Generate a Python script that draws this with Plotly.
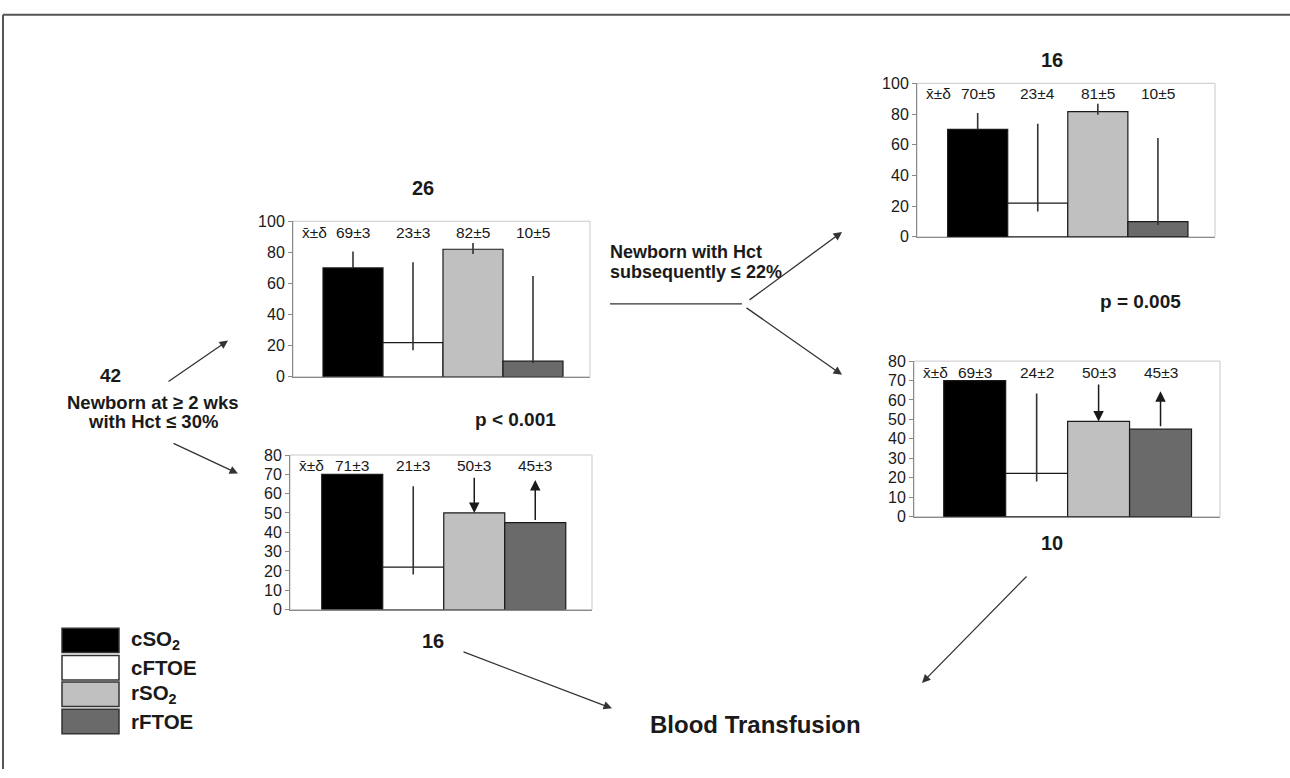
import plotly.graph_objects as go

W, H = 1290, 778

# ---------------- data ----------------
categories = ["cSO2", "cFTOE", "rSO2", "rFTOE"]
bar_colors = ["#000000", "#ffffff", "#c0c0c0", "#6a6a6a"]

# chart 1: 26 newborns (top-left)
c1_values = [70, 22, 82, 10]
c1_err_top = [80.5, 73.6, 86, 64.8]
c1_err_bot = [70, 17, 79, 8.8]
c1_labels = ["69±3", "23±3", "82±5", "10±5"]

# chart 2: 16 newborns (bottom-left)
c2_values = [70, 22, 50, 45]
c2_err_top = [70, 63.8, 50, 45]
c2_err_bot = [70, 18.2, 50, 45]
c2_labels = ["71±3", "21±3", "50±3", "45±3"]
c2_arrow_from = [None, None, 69, 45.6]
c2_arrow_to = [None, None, 50, 67]

# chart 3: 16 newborns (top-right)
c3_values = [70, 22, 81.6, 10]
c3_err_top = [80.7, 73.7, 86.7, 64.4]
c3_err_bot = [70, 16.5, 79.5, 7.8]
c3_labels = ["70±5", "23±4", "81±5", "10±5"]

# chart 4: 10 newborns (bottom-right)
c4_values = [70, 22.3, 49, 45]
c4_err_top = [70, 63.3, 49, 45]
c4_err_bot = [70, 18.1, 49, 45]
c4_labels = ["69±3", "24±2", "50±3", "45±3"]
c4_arrow_from = [None, None, 68.8, 45.7]
c4_arrow_to = [None, None, 49, 64.5]

y_ticks_100 = [0, 20, 40, 60, 80, 100]
y_ticks_80 = [0, 10, 20, 30, 40, 50, 60, 70, 80]

FONT = "Liberation Sans, Arial, Helvetica, sans-serif"
TXT = "#1a1a1a"


def px(x):
    return x / W


def py(y):
    return 1 - y / H


charts = [
    dict(v=c1_values, t=c1_err_top, b=c1_err_bot, lab=c1_labels, af=None, at=None,
         xp=(293, 590), yp=(218, 377), yr=100, xr=(-1.0, 3.95), ticks=y_ticks_100, ly=92.5),
    dict(v=c2_values, t=c2_err_top, b=c2_err_bot, lab=c2_labels, af=c2_arrow_from, at=c2_arrow_to,
         xp=(290, 592), yp=(457, 615), yr=80, xr=(-1.02, 3.93), ticks=y_ticks_80, ly=74.4),
    dict(v=c3_values, t=c3_err_top, b=c3_err_bot, lab=c3_labels, af=None, at=None,
         xp=(917, 1215), yp=(77, 234), yr=100, xr=(-1.01, 3.95), ticks=y_ticks_100, ly=93.5),
    dict(v=c4_values, t=c4_err_top, b=c4_err_bot, lab=c4_labels, af=c4_arrow_from, at=c4_arrow_to,
         xp=(914, 1220), yp=(361, 520), yr=80, xr=(-0.98, 3.96), ticks=y_ticks_80, ly=74),
]

fig = go.Figure()
layout = dict(
    width=W, height=H, margin=dict(l=0, r=0, t=0, b=0),
    paper_bgcolor="white", plot_bgcolor="white", showlegend=False,
    font=dict(family=FONT, color=TXT),
)
annotations = []
shapes = []

for i, c in enumerate(charts, start=1):
    xa = "x" if i == 1 else f"x{i}"
    ya = "y" if i == 1 else f"y{i}"
    xkey = "xaxis" if i == 1 else f"xaxis{i}"
    ykey = "yaxis" if i == 1 else f"yaxis{i}"
    plus = [t - v for t, v in zip(c["t"], c["v"])]
    minus = [v - b for b, v in zip(c["b"], c["v"])]
    fig.add_trace(go.Bar(
        x=list(range(4)), y=c["v"], width=[1] * 4, xaxis=xa, yaxis=ya,
        marker=dict(color=bar_colors, line=dict(color="#1a1a1a", width=1.2)),
        error_y=dict(type="data", symmetric=False, array=plus, arrayminus=minus,
                     color="#333333", thickness=1.6, width=0),
        hoverinfo="skip",
    ))
    layout[xkey] = dict(domain=[px(c["xp"][0]), px(c["xp"][1])], range=list(c["xr"]),
                        showticklabels=False, showgrid=False, zeroline=False,
                        showline=True, linecolor="#8a8a8a", linewidth=1,
                        anchor=ya, fixedrange=True)
    layout[ykey] = dict(domain=[py(c["yp"][1]), py(c["yp"][0])], range=[0, c["yr"]],
                        tickvals=c["ticks"], ticks="outside", ticklen=4, tickcolor="#8a8a8a",
                        showgrid=False, zeroline=False, showline=True, linecolor="#8a8a8a",
                        linewidth=1, tickfont=dict(size=16, color=TXT, family=FONT),
                        anchor=xa, fixedrange=True)
    shapes.append(dict(type="rect", xref=f"{xa} domain", yref=f"{ya} domain",
                       x0=0, x1=1, y0=0, y1=1, line=dict(color="#c8c8c8", width=1),
                       layer="below"))
    annotations.append(dict(x=c["xr"][0] + 0.35, y=c["ly"], xref=xa, yref=ya,
                            text="x\u0304±δ", showarrow=False,
                            font=dict(size=15.5, color=TXT)))
    for k, lab in enumerate(c["lab"]):
        annotations.append(dict(x=k, y=c["ly"], xref=xa, yref=ya, text=lab,
                                showarrow=False, font=dict(size=15.5, color=TXT)))
    if c["af"]:
        for k in range(4):
            if c["af"][k] is None:
                continue
            annotations.append(dict(x=k, y=c["at"][k], ax=k, ay=c["af"][k],
                                    xref=xa, yref=ya, axref=xa, ayref=ya, text="",
                                    showarrow=True, arrowhead=2, arrowsize=1.4,
                                    arrowwidth=1.5, arrowcolor="#1a1a1a"))


def label(x, y, text, size=18, bold=True, xanchor="center"):
    annotations.append(dict(x=px(x), y=py(y), xref="paper", yref="paper",
                            text=f"<b>{text}</b>" if bold else text, showarrow=False,
                            xanchor=xanchor, yanchor="middle",
                            font=dict(size=size, color=TXT, family=FONT)))


def arrow(x0, y0, x1, y1, head=True):
    annotations.append(dict(x=px(x1), y=py(y1), xref="paper", yref="paper",
                            ax=x0 - x1, ay=y0 - y1, axref="pixel", ayref="pixel",
                            text="", showarrow=True, arrowhead=2 if head else 0,
                            arrowsize=1.3, arrowwidth=1.3, arrowcolor="#333333",
                            standoff=0))


label(423, 184, "26", 20)
label(433, 647, "16", 20)
label(515, 421, "p &lt; 0.001", 19)
label(1052, 53, "16", 20)
label(1140, 300, "p = 0.005", 19)
label(1052, 547, "10", 20)

label(110, 376, "42", 19)
label(153, 403, "Newborn at ≥ 2 wks", 18.5)
label(153, 423, "with Hct ≤ 30%", 18.5)

label(608, 249, "Newborn with Hct", 18, xanchor="left")
label(608, 270, "subsequently ≤ 22%", 18, xanchor="left")

label(755, 732, "Blood Transfusion", 24)

arrow(167, 382, 228, 340)
arrow(172, 445, 238, 476)
shapes.append(dict(type="line", xref="paper", yref="paper",
                   x0=px(610), y0=py(302.5), x1=px(742), y1=py(302.5),
                   line=dict(color="#333333", width=1.3)))
arrow(748, 298, 842, 229)
arrow(745, 307, 842, 375)
arrow(462, 659, 612, 716)
arrow(1028, 582, 922, 690)

legend_rows = [(634, 659), (662, 687), (689, 714), (717, 742)]
legend_texts = ["cSO<sub>2</sub>", "cFTOE", "rSO<sub>2</sub>", "rFTOE"]
for (y0, y1), col, txt in zip(legend_rows, bar_colors, legend_texts):
    shapes.append(dict(type="rect", xref="paper", yref="paper",
                       x0=px(62), x1=px(119), y0=py(y1), y1=py(y0),
                       fillcolor=col, line=dict(color="#333333", width=1.5)))
    label(129, (y0 + y1) / 2, txt, 20.5, xanchor="left")

shapes.append(dict(type="line", xref="paper", yref="paper", x0=px(3), x1=1,
                   y0=py(7), y1=py(7), line=dict(color="#555555", width=2)))
shapes.append(dict(type="line", xref="paper", yref="paper", x0=px(3), x1=px(3),
                   y0=py(7), y1=0, line=dict(color="#555555", width=2)))

layout["annotations"] = annotations
layout["shapes"] = shapes
fig.update_layout(**layout)
fig.write_html("out.html", config={"displayModeBar": False},
               post_script="document.body.style.margin='0px';document.body.style.overflow='hidden';")
